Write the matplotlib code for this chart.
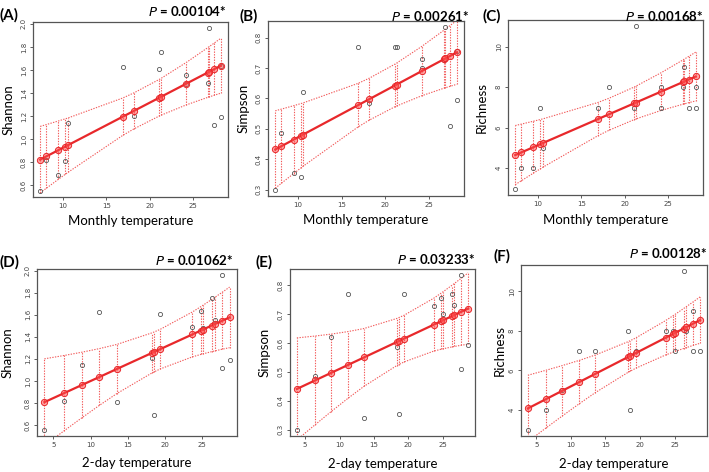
import numpy as np
import matplotlib
matplotlib.use('Agg')
from matplotlib import pyplot as plt
from matplotlib.ticker import FormatStrFormatter, MultipleLocator

# 16 samples: temperatures and diversity indices
monthly = [7.4, 8.1, 9.5, 10.3, 10.6, 16.9, 18.2, 21.1, 21.3, 24.2, 24.2, 26.7, 26.9, 27.4, 28.2, 28.2]
twoday = [3.8, 6.45, 18.6, 13.55, 8.8, 11.2, 18.3, 19.4, 26.3, 26.7, 25.1, 23.7, 27.7, 27.7, 28.7, 24.8]
shannon = [0.556, 0.822, 0.687, 0.81, 1.142, 1.625, 1.205, 1.61, 1.755, 1.555, 1.48, 1.488, 1.96, 1.12, 1.194, 1.634]
simpson = [0.30, 0.485, 0.355, 0.34, 0.62, 0.77, 0.585, 0.77, 0.77, 0.73, 0.70, 0.728, 0.834, 0.51, 0.594, 0.756]
richness = [3, 4, 4, 7, 5, 7, 8, 7, 11, 8, 7, 8, 9, 7, 7, 8]

panel_tags = ['(A)', '(B)', '(C)', '(D)', '(E)', '(F)']
pvalues = ['0.00104*', '0.00261*', '0.00168*', '0.01062*', '0.03233*', '0.00128*']
ylabels = ['Shannon', 'Simpson', 'Richness']
xlabels = ['Monthly temperature', '2-day temperature']

W, H = 709, 472
T_CRIT = 2.145  # t(0.975, df=14)

# axes boxes in pixels: left, top, right, bottom
boxes = [(33, 22, 228, 197), (268, 21, 464, 196), (508, 20, 703, 195),
         (37, 269, 237, 436), (290, 269, 475, 436), (521, 265, 707, 436)]
tag_pos = [(0, 15), (240, 16), (482, 16), (0, 262), (256, 262), (493, 256)]
p_pos = [(226, 11), (469, 16), (703, 16), (233, 260), (475, 259), (707, 253)]
ylab_x = [9, 244, 482, 8, 265, 500]
xlab_y = [221, 220, 220, 463, 464, 464]

RED = '#e8282b'
BAND = '#f25a5a'


def fx(x):
    return x / W


def fy(y):
    return 1 - y / H


fig = plt.figure(figsize=(W / 100, H / 100), dpi=100)

series = [(monthly, shannon), (monthly, simpson), (monthly, richness),
          (twoday, shannon), (twoday, simpson), (twoday, richness)]

for i, (xs, ys) in enumerate(series):
    l, t, r, b = boxes[i]
    ax = fig.add_axes([fx(l), fy(b), fx(r - l), (b - t) / H])
    x = np.array(xs, dtype=float)
    y = np.array(ys, dtype=float)

    # linear fit with 95% confidence band
    slope, inter = np.polyfit(x, y, 1)
    resid = y - (inter + slope * x)
    n = len(x)
    s = np.sqrt(np.sum(resid ** 2) / (n - 2))
    sxx = np.sum((x - x.mean()) ** 2)
    xu = np.unique(x)
    fit = inter + slope * xu
    half = T_CRIT * s * np.sqrt(1 / n + (xu - x.mean()) ** 2 / sxx)
    lo, hi = fit - half, fit + half

    ax.vlines(xu, lo, hi, colors=BAND, linestyles=(0, (1.2, 1.2)), lw=0.8, zorder=2)
    ax.plot(xu, hi, color=BAND, ls=(0, (1.2, 1.2)), lw=0.8, zorder=2)
    ax.plot(xu, lo, color=BAND, ls=(0, (1.2, 1.2)), lw=0.8, zorder=2)
    ax.plot(xs, ys, 'o', ms=3, mfc='none', mec='#555555', mew=0.6, zorder=3)
    ax.plot(xu, fit, '-o', color=RED, lw=1.6, ms=4.5,
            mfc=(1, 0.3, 0.3, 0.5), mec=RED, mew=0.7, zorder=4)

    xr = x.max() - x.min()
    yr = y.max() - y.min()
    ax.set_xlim(x.min() - 0.04 * xr, x.max() + 0.04 * xr)
    ax.set_ylim(y.min() - 0.04 * yr, y.max() + 0.04 * yr)

    ax.xaxis.set_major_locator(MultipleLocator(5))
    k = i % 3
    if k == 0:
        ax.yaxis.set_major_locator(MultipleLocator(0.2))
        ax.yaxis.set_major_formatter(FormatStrFormatter('%.1f'))
    elif k == 1:
        ax.yaxis.set_major_locator(MultipleLocator(0.1))
        ax.yaxis.set_major_formatter(FormatStrFormatter('%.1f'))
    else:
        ax.yaxis.set_major_locator(MultipleLocator(2))
        ax.yaxis.set_major_formatter(FormatStrFormatter('%d'))

    ax.tick_params(labelsize=5, length=2.5, width=0.6, colors='#444444', pad=2)
    for lab in ax.get_yticklabels():
        lab.set_rotation(90)
        lab.set_va('center')
    for sp in ax.spines.values():
        sp.set_color('#555555')
        sp.set_linewidth(0.9)

    fig.text(fx(tag_pos[i][0]), fy(tag_pos[i][1]), panel_tags[i], family='Lato',
             fontsize=11, fontweight='bold', ha='left', va='center')
    fig.text(fx(p_pos[i][0]), fy(p_pos[i][1]), '$\\bf{\\it{P}}$ = ' + pvalues[i],
             family='Lato', fontsize=9.5, fontweight='bold', ha='right', va='center')
    fig.text(fx(ylab_x[i]), fy((t + b) / 2), ylabels[k], family='Lato',
             fontsize=9.5, rotation=90, ha='center', va='center')
    fig.text(fx((l + r) / 2), fy(xlab_y[i]), xlabels[i // 3], family='Lato',
             fontsize=9.5, ha='center', va='center')

fig.savefig('out.png', dpi=100)
